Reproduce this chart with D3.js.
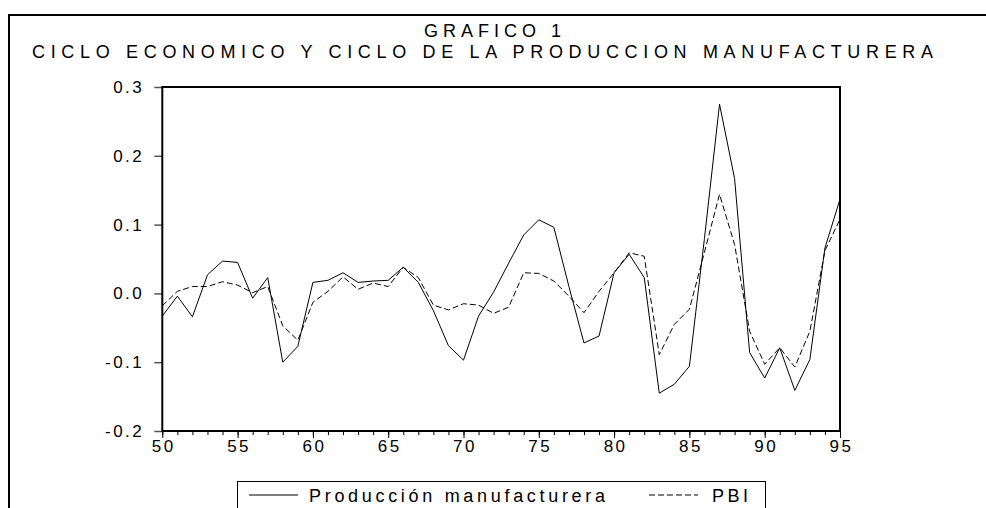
<!DOCTYPE html>
<html>
<head>
<meta charset="utf-8">
<script src="https://cdnjs.cloudflare.com/ajax/libs/d3/7.8.5/d3.min.js"></script>
<style>
body { margin: 0; background: #fff; }
svg text { font-family: "Liberation Sans", Arial, sans-serif; fill: #000; }
</style>
</head>
<body>
<div id="vis"></div>
<script>
// anos 1950-1995, ciclos (desviaciones de tendencia)
var years = d3.range(1950, 1996);
var produccion = [-0.033, -0.004, -0.034, 0.027, 0.047, 0.045, -0.007, 0.023, -0.100, -0.077,
                  0.016, 0.019, 0.030, 0.016, 0.018, 0.019, 0.038, 0.016, -0.025, -0.076,
                  -0.097, -0.033, 0.002, 0.044, 0.085, 0.107, 0.096, 0.010, -0.072, -0.062,
                  0.030, 0.057, 0.023, -0.145, -0.132, -0.106, 0.080, 0.275, 0.167, -0.086,
                  -0.123, -0.079, -0.141, -0.096, 0.066, 0.137];
var pbi = [-0.018, 0.003, 0.010, 0.010, 0.017, 0.012, 0.001, 0.010, -0.047, -0.068,
           -0.013, 0.003, 0.024, 0.006, 0.015, 0.010, 0.038, 0.023, -0.017, -0.024,
           -0.015, -0.017, -0.029, -0.020, 0.030, 0.029, 0.018, -0.004, -0.028, 0.003,
           0.030, 0.059, 0.054, -0.089, -0.045, -0.023, 0.060, 0.144, 0.071, -0.055,
           -0.103, -0.079, -0.107, -0.055, 0.062, 0.108];
var yTicks = [-0.2, -0.1, 0.0, 0.1, 0.2, 0.3];
var xMajor = [1950, 1955, 1960, 1965, 1970, 1975, 1980, 1985, 1990, 1995];

var W = 986, H = 508;
var svg = d3.select("#vis").append("svg")
    .attr("width", W).attr("height", H);

// marco exterior
svg.append("line").attr("x1", 8).attr("x2", W).attr("y1", 15).attr("y2", 15)
    .attr("stroke", "#000").attr("stroke-width", 2);
svg.append("line").attr("x1", 9).attr("x2", 9).attr("y1", 14).attr("y2", H)
    .attr("stroke", "#000").attr("stroke-width", 2);

// titulos
svg.append("text").attr("x", 492.5).attr("y", 37).attr("text-anchor", "middle")
    .style("font-size", "18px").attr("textLength", 137).attr("lengthAdjust", "spacing")
    .text("GRAFICO 1");
svg.append("text").attr("x", 482.5).attr("y", 58).attr("text-anchor", "middle")
    .style("font-size", "18px").attr("textLength", 901).attr("lengthAdjust", "spacing")
    .text("CICLO ECONOMICO Y CICLO DE LA PRODUCCION MANUFACTURERA");

var x = d3.scaleLinear().domain([1950, 1995]).range([162.3, 840]);
var y = d3.scaleLinear().domain([-0.2, 0.3]).range([431, 87]);

// ejes
var gy = svg.append("g").attr("transform", "translate(162.3,0)")
    .call(d3.axisLeft(y).tickValues(yTicks).tickFormat(function(d) { return d.toFixed(1); })
        .tickSize(8).tickPadding(10));
gy.select(".domain").remove();
gy.selectAll("line").attr("stroke", "#555").attr("stroke-width", 1.5);
gy.selectAll("text").style("font-size", "17px").style("letter-spacing", "2.5px")
    .style("font-family", null);

var gxm = svg.append("g").attr("transform", "translate(0,431)")
    .call(d3.axisBottom(x).tickValues(years).tickFormat("").tickSize(4));
gxm.select(".domain").remove();

var gx = svg.append("g").attr("transform", "translate(0,431)")
    .call(d3.axisBottom(x).tickValues(xMajor).tickFormat(function(d) { return String(d).slice(2); })
        .tickSize(7).tickPadding(2));
gx.select(".domain").remove();
gx.selectAll("text").style("font-size", "17px").style("letter-spacing", "2.5px")
    .attr("dx", "1px")
    .style("font-family", null);

// series
var line = d3.line().x(function(d, i) { return x(years[i]); }).y(function(d) { return y(d); });
svg.append("path").datum(pbi).attr("d", line)
    .attr("fill", "none").attr("stroke", "#000").attr("stroke-width", 1)
    .attr("stroke-dasharray", "6,3");
svg.append("path").datum(produccion).attr("d", line)
    .attr("fill", "none").attr("stroke", "#000").attr("stroke-width", 1);

// recuadro del grafico
svg.append("rect").attr("x", x(1950)).attr("y", y(0.3))
    .attr("width", x(1995) - x(1950)).attr("height", y(-0.2) - y(0.3))
    .attr("fill", "none").attr("stroke", "#000").attr("stroke-width", 2);

// leyenda
var leg = svg.append("g");
leg.append("rect").attr("x", 237.5).attr("y", 481.5).attr("width", 528).attr("height", 40)
    .attr("fill", "#fff").attr("stroke", "#000").attr("stroke-width", 1);
leg.append("line").attr("x1", 249).attr("x2", 298).attr("y1", 495).attr("y2", 495)
    .attr("stroke", "#000").attr("stroke-width", 1);
leg.append("text").attr("x", 309).attr("y", 502).style("font-size", "18px")
    .attr("textLength", 296).attr("lengthAdjust", "spacing")
    .text("Producción manufacturera");
leg.append("line").attr("x1", 649).attr("x2", 698).attr("y1", 495).attr("y2", 495)
    .attr("stroke", "#000").attr("stroke-width", 1).attr("stroke-dasharray", "6,3");
leg.append("text").attr("x", 712).attr("y", 502).style("font-size", "18px")
    .attr("textLength", 36).attr("lengthAdjust", "spacing")
    .text("PBI");
</script>
</body>
</html>
